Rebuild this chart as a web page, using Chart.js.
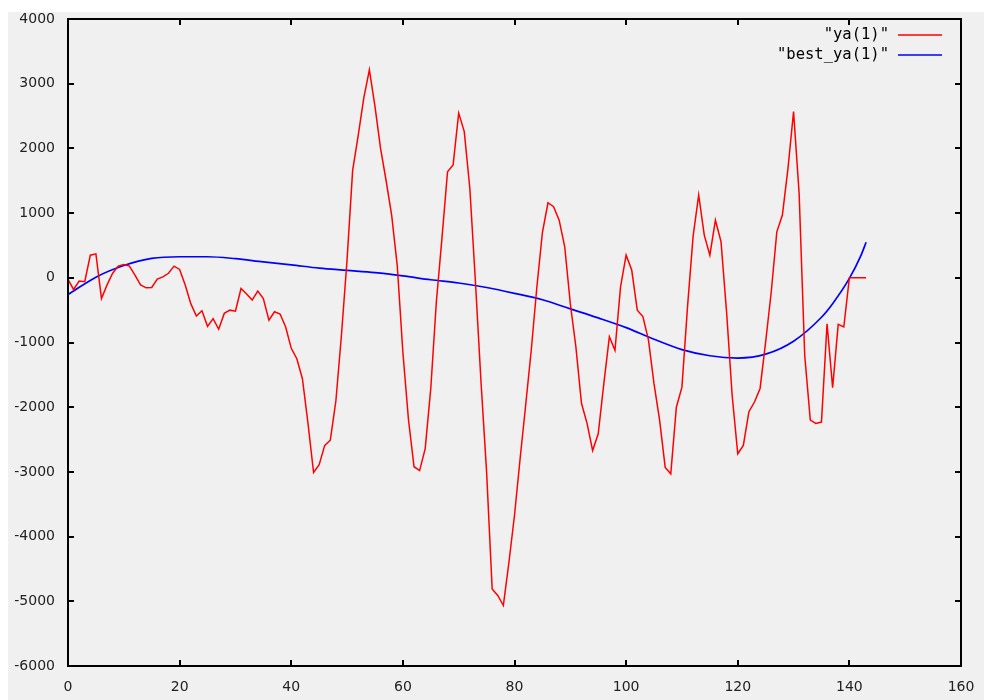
<!DOCTYPE html>
<html>
<head>
<meta charset="utf-8">
<title>ya(1) vs best_ya(1)</title>
<script src="https://cdn.jsdelivr.net/npm/chart.js@4.4.1/dist/chart.umd.min.js"></script>
<style>
  html, body { margin: 0; padding: 0; background: #ffffff; }
  #chart { display: block; }
</style>
</head>
<body>
<canvas id="chart" width="984" height="700"></canvas>
<script>
// ya(1) sampled at x = 0, 1, 2, ... (index = x)
const yaValues = [
  -25, -180, -50, -60, 350, 370, -320, -110, 70, 180,
  205, 180, 40, -110, -155, -150, -20, 15, 70, 180,
  130, -110, -400, -590, -510, -750, -630, -795, -550, -500,
  -515, -165, -250, -345, -205, -320, -655, -525, -560, -760,
  -1090, -1250, -1560, -2250, -3010, -2890, -2590, -2510, -1900, -880,
  280, 1660, 2200, 2780, 3215, 2650, 2000, 1500, 960, 180,
  -1150, -2190, -2920, -2980, -2640, -1710, -370, 610, 1640, 1745,
  2545, 2260, 1380, -60, -1610, -3000, -4810, -4910, -5065, -4400,
  -3670, -2800, -1970, -1120, -150, 700, 1160, 1100, 890, 480,
  -400, -1070, -1940, -2250, -2670, -2410, -1640, -910, -1120, -140,
  350, 120, -500, -600, -960, -1640, -2200, -2930, -3030, -2000,
  -1690, -450, 640, 1280, 660, 350, 890, 560, -530, -1820,
  -2720, -2590, -2070, -1920, -1710, -990, -220, 710, 970, 1690,
  2570, 1300, -1200, -2200, -2250, -2230, -710, -1700, -720, -760,
  0, 0, 0, 0
];

// best_ya(1)
const bestX = [0, 5, 10, 15, 20, 25, 30, 35, 40, 45, 50, 55, 60, 65, 70, 75, 80, 85, 90, 95, 100, 105, 110, 115, 120, 125, 130, 135, 137, 140, 142, 143];
const bestValues = [-260, 10, 190, 300, 325, 325, 295, 245, 200, 150, 115, 80, 30, -30, -80, -150, -240, -340, -480, -620, -770, -950, -1110, -1205, -1240, -1180, -980, -610, -400, -10, 330, 550];

const seriesLabels = ['"ya(1)"', '"best_ya(1)"'];
const seriesColors = ['#ff0000', '#0000ff'];

const xTicks = [0, 20, 40, 60, 80, 100, 120, 140, 160];
const yTicks = [-6000, -5000, -4000, -3000, -2000, -1000, 0, 1000, 2000, 3000, 4000];

Chart.defaults.font.family = "'DejaVu Sans', sans-serif";
Chart.defaults.font.size = 14;
Chart.defaults.color = '#222222';

// gray page behind the plot
const backdrop = {
  id: 'backdrop',
  beforeDraw(chart) {
    const c = chart.ctx;
    c.save();
    c.fillStyle = '#ffffff';
    c.fillRect(0, 0, chart.width, chart.height);
    c.fillStyle = '#f0f0f0';
    c.fillRect(8, 12, chart.width - 8, chart.height - 12);
    c.restore();
  }
};

// gnuplot style frame with inward ticks on all four sides
const frame = {
  id: 'frame',
  afterDraw(chart) {
    const c = chart.ctx;
    const a = chart.chartArea;
    const xs = chart.scales.x;
    const ys = chart.scales.y;
    const tl = 6;
    c.save();
    c.strokeStyle = '#000000';
    c.lineWidth = 2;
    c.beginPath();
    xTicks.forEach(v => {
      const px = Math.round(xs.getPixelForValue(v));
      c.moveTo(px, a.bottom); c.lineTo(px, a.bottom - tl);
      c.moveTo(px, a.top); c.lineTo(px, a.top + tl);
    });
    yTicks.forEach(v => {
      const py = Math.round(ys.getPixelForValue(v));
      c.moveTo(a.left, py); c.lineTo(a.left + tl, py);
      c.moveTo(a.right, py); c.lineTo(a.right - tl, py);
    });
    c.stroke();
    c.strokeRect(a.left, a.top, a.right - a.left, a.bottom - a.top);
    c.restore();
  }
};

// legend in the top right corner: label text, then a line sample
const keyBox = {
  id: 'keyBox',
  afterDraw(chart) {
    const c = chart.ctx;
    c.save();
    c.font = "15.5px 'DejaVu Sans Mono', monospace";
    c.textAlign = 'right';
    c.textBaseline = 'middle';
    chart.data.datasets.forEach((ds, i) => {
      const y = 35 + i * 20;
      c.fillStyle = '#000000';
      c.fillText(ds.label, 889, y);
      c.strokeStyle = ds.borderColor;
      c.lineWidth = 1.5;
      c.beginPath();
      c.moveTo(898, y);
      c.lineTo(942, y);
      c.stroke();
    });
    c.restore();
  }
};

new Chart(document.getElementById('chart'), {
  type: 'line',
  data: {
    datasets: [
      {
        label: seriesLabels[0],
        data: yaValues.map((v, i) => ({ x: i, y: v })),
        borderColor: seriesColors[0],
        borderWidth: 1.5,
        pointRadius: 0,
        tension: 0,
        fill: false,
      },
      {
        label: seriesLabels[1],
        data: bestValues.map((v, i) => ({ x: bestX[i], y: v })),
        borderColor: seriesColors[1],
        borderWidth: 1.7,
        pointRadius: 0,
        cubicInterpolationMode: 'monotone',
        fill: false,
      },
    ],
  },
  options: {
    responsive: false,
    animation: false,
    devicePixelRatio: 1,
    layout: {
      padding: { left: 0, top: 19, right: 23, bottom: 0 },
    },
    plugins: {
      legend: { display: false },
      tooltip: { enabled: false },
    },
    scales: {
      x: {
        type: 'linear',
        min: 0,
        max: 160,
        afterFit: s => {
          s.height = 34;
          s.paddingLeft = 0;
          s.paddingRight = 0;
        },
        afterBuildTicks: s => { s.ticks = xTicks.map(v => ({ value: v })); },
        grid: { display: false, drawTicks: false },
        border: { display: false },
        ticks: {
          padding: 13,
          maxRotation: 0,
          callback: v => String(v),
        },
      },
      y: {
        type: 'linear',
        min: -6000,
        max: 4000,
        afterFit: s => {
          s.width = 68;
          s.paddingTop = 0;
          s.paddingBottom = 0;
        },
        afterBuildTicks: s => { s.ticks = yTicks.map(v => ({ value: v })); },
        grid: { display: false, drawTicks: false },
        border: { display: false },
        ticks: {
          padding: 13,
          callback: v => String(v),
        },
      },
    },
  },
  plugins: [backdrop, frame, keyBox],
});
</script>
</body>
</html>
